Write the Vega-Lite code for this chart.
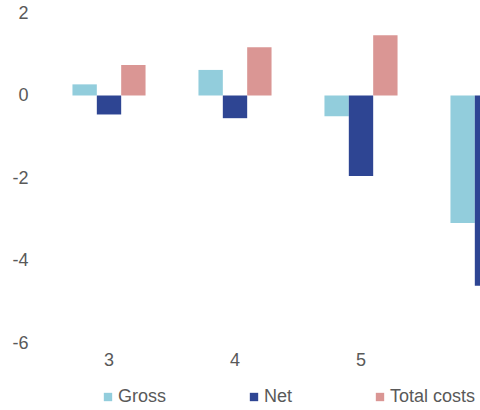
{
  "$schema": "https://vega.github.io/schema/vega-lite/v6.json",
  "width": 434,
  "height": 330,
  "autosize": {"type": "none"},
  "padding": {"left": 46, "top": 13, "right": 0, "bottom": 67},
  "background": "white",
  "config": {"view": {"stroke": null}, "font": "Liberation Sans"},
  "data": {
    "values": [
      {"period": "3", "series": "Gross", "value": 0.27},
      {"period": "3", "series": "Net", "value": -0.46},
      {"period": "3", "series": "Total costs", "value": 0.74},
      {"period": "4", "series": "Gross", "value": 0.62},
      {"period": "4", "series": "Net", "value": -0.55},
      {"period": "4", "series": "Total costs", "value": 1.17},
      {"period": "5", "series": "Gross", "value": -0.5},
      {"period": "5", "series": "Net", "value": -1.95},
      {"period": "5", "series": "Total costs", "value": 1.46},
      {"period": "6", "series": "Gross", "value": -3.09},
      {"period": "6", "series": "Net", "value": -4.61},
      {"period": "6", "series": "Total costs", "value": 1.5}
    ]
  },
  "mark": {"type": "bar", "clip": true},
  "encoding": {
    "x": {
      "field": "period",
      "type": "nominal",
      "sort": ["3", "4", "5", "6"],
      "scale": {"range": [0, 504], "paddingInner": 0.42, "paddingOuter": 0.21},
      "axis": {
        "title": null,
        "labelAngle": 0,
        "domain": false,
        "ticks": false,
        "tickSize": 0,
        "labelPadding": 8,
        "labelFontSize": 18,
        "labelColor": "#595959",
        "labelBaseline": "top",
        "labelExpr": "datum.value == '6' ? '' : datum.label"
      }
    },
    "xOffset": {
      "field": "series",
      "sort": ["Gross", "Net", "Total costs"],
      "scale": {"paddingInner": 0, "paddingOuter": 0}
    },
    "y": {
      "field": "value",
      "type": "quantitative",
      "scale": {"domain": [-6, 2], "nice": false},
      "axis": {
        "title": null,
        "values": [-6, -4, -2, 0, 2],
        "grid": false,
        "domain": false,
        "ticks": false,
        "tickSize": 0,
        "labelPadding": 18,
        "labelFontSize": 18,
        "labelColor": "#595959",
        "labelExpr": "'' + datum.value"
      }
    },
    "color": {
      "field": "series",
      "type": "nominal",
      "sort": ["Gross", "Net", "Total costs"],
      "scale": {
        "domain": ["Gross", "Net", "Total costs"],
        "range": ["#92CDDC", "#2E4593", "#DA9694"]
      },
      "legend": {
        "title": null,
        "orient": "none",
        "legendX": 53,
        "legendY": 375,
        "direction": "horizontal",
        "columns": 3,
        "columnPadding": 78,
        "symbolType": "square",
        "symbolSize": 70,
        "symbolStrokeWidth": 0,
        "symbolOpacity": 1,
        "labelFontSize": 18,
        "labelColor": "#595959",
        "labelOffset": 1
      }
    }
  }
}
